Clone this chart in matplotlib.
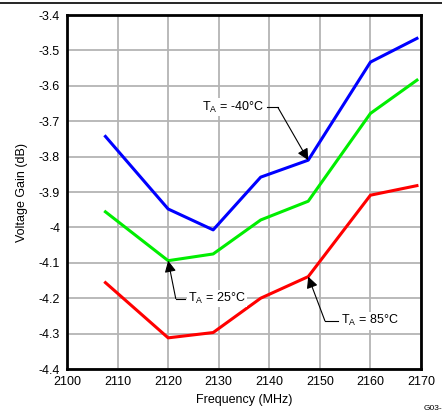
import matplotlib
matplotlib.use("Agg")
import matplotlib.pyplot as plt
from matplotlib.lines import Line2D

plt.rcParams['font.family'] = ['Liberation Sans', 'DejaVu Sans']

# frequency points (MHz)
freq = [2107.6, 2120.0, 2128.9, 2138.3, 2147.7, 2160.0, 2169.2]
# voltage gain (dB) per temperature
gain_m40 = [-3.743, -3.948, -4.007, -3.858, -3.810, -3.533, -3.466]
gain_25 = [-3.956, -4.094, -4.075, -3.979, -3.926, -3.678, -3.584]
gain_85 = [-4.156, -4.312, -4.297, -4.200, -4.139, -3.909, -3.882]

xticks = [2100, 2110, 2120, 2130, 2140, 2150, 2160, 2170]
yticks = [-4.4, -4.3, -4.2, -4.1, -4, -3.9, -3.8, -3.7, -3.6, -3.5, -3.4]
ytick_labels = ['-4.4', '-4.3', '-4.2', '-4.1', '-4', '-3.9', '-3.8', '-3.7', '-3.6', '-3.5', '-3.4']

fig = plt.figure(figsize=(4.42, 4.17), dpi=100)
ax = fig.add_axes([0.1516, 0.1151, 0.8009, 0.8489])

ax.plot(freq, gain_m40, color='#0000ff', lw=2.2, zorder=3)
ax.plot(freq, gain_25, color='#00ee00', lw=2.2, zorder=3)
ax.plot(freq, gain_85, color='#ff0000', lw=2.2, zorder=3)

ax.set_xlim(2100, 2170)
ax.set_ylim(-4.4, -3.4)
ax.set_xticks(xticks)
ax.set_yticks(yticks)
ax.set_yticklabels(ytick_labels)
ax.tick_params(length=0, labelsize=9, pad=5)
ax.grid(True, color='#b4b4b4', lw=1.3, zorder=0)
ax.set_axisbelow(True)
for s in ax.spines.values():
    s.set_linewidth(2)

ax.set_xlabel('Frequency (MHz)', fontsize=9, labelpad=4)
ax.set_ylabel('Voltage Gain (dB)', fontsize=9, labelpad=8)

box = dict(facecolor='white', edgecolor='none', pad=1)
arrow = dict(arrowstyle='-|>', color='black', lw=0.8, mutation_scale=17,
             shrinkA=0, shrinkB=0)

# -40 C label
ax.annotate('', xy=(freq[4], gain_m40[4]), xytext=(2141.7, -3.661),
            arrowprops=arrow, zorder=5)
ax.plot([2139.5, 2141.7], [-3.661, -3.661], color='black', lw=0.8, zorder=5)
ax.text(2139.0, -3.661, r'T$_\mathregular{A}$ = -40°C', fontsize=9,
        ha='right', va='center', bbox=box, zorder=4)

# 25 C label
ax.annotate('', xy=(freq[1], gain_25[1]), xytext=(2121.5, -4.201),
            arrowprops=arrow, zorder=5)
ax.plot([2121.5, 2123.3], [-4.201, -4.201], color='black', lw=0.8, zorder=5)
ax.text(2124.0, -4.201, r'T$_\mathregular{A}$ = 25°C', fontsize=9,
        ha='left', va='center', bbox=box, zorder=4)

# 85 C label
ax.annotate('', xy=(freq[4], gain_85[4]), xytext=(2151.0, -4.264),
            arrowprops=arrow, zorder=5)
ax.plot([2151.0, 2153.6], [-4.264, -4.264], color='black', lw=0.8, zorder=5)
ax.text(2154.2, -4.264, r'T$_\mathregular{A}$ = 85°C', fontsize=9,
        ha='left', va='center', bbox=box, zorder=4)

fig.add_artist(Line2D([0, 1], [0.9928, 0.9928], color='black', lw=1.2,
                      transform=fig.transFigure))
fig.text(0.958, 0.012, 'G03-', fontsize=6, ha='left', va='bottom')

fig.savefig('out.png', dpi=100)
